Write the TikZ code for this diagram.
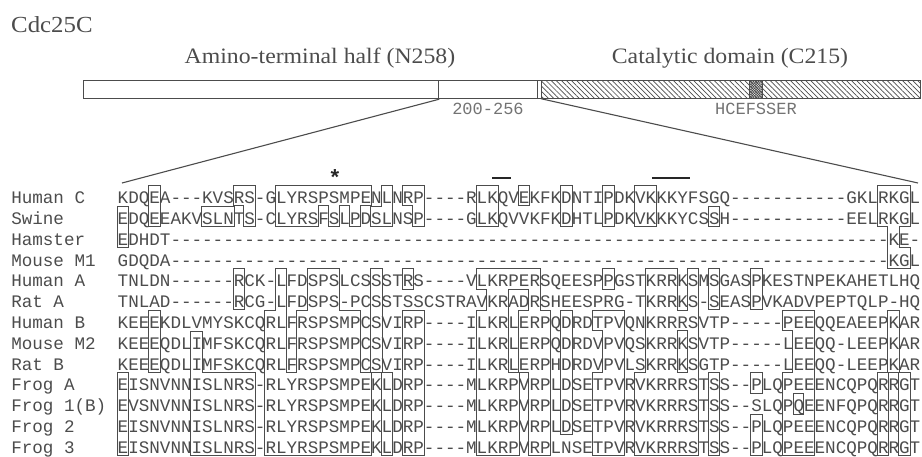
\documentclass[tikz,border=0pt]{standalone}
\usepackage{fontspec}
\setmainfont{Liberation Serif}
\newfontfamily\serifx[FakeStretch=1.08]{Liberation Serif}
\newfontfamily\monox{Liberation Mono}
\usetikzlibrary{patterns.meta}
\definecolor{ink}{gray}{0.3}
\definecolor{lightink}{gray}{0.45}
\tikzset{
  titletext/.style={font=\serifx\fontsize{23}{28}\selectfont, text=ink, inner sep=0pt},
  domaintext/.style={font=\serifx\fontsize{22}{26}\selectfont, text=ink, inner sep=0pt},
  seqtext/.style={font=\monox\fontsize{17.6}{20}\selectfont, text=ink, inner sep=0pt, anchor=base west},
  smallmono/.style={font=\monox\fontsize{17}{20}\selectfont, text=lightink, inner sep=0pt},
  barseg/.style={draw=ink, line width=1.2pt, inner sep=0pt, minimum height=18pt, anchor=north west, fill=white},
  hatchseg/.style={barseg, pattern={Lines[angle=-45,distance=3.6pt,line width=0.7pt]}, pattern color=ink},
  motifseg/.style={barseg, pattern={Hatch[angle=45,distance=1.8pt,line width=0.6pt]}, pattern color=ink},
  zoomline/.style={draw=ink, line width=1.1pt},
  boxstroke/.style={draw=ink, line width=2pt},
  markbar/.style={draw=black!85, line width=2pt},
}
\def\boxlist{0/0/1/2, 0/0/9/12, 3/3/0/1, 3/3/6/8,
 7/7/7/12, 8/12/9/12, 8/10/1/1, 11/11/0/0, 12/12/0/1, 11/11/4/5,
 14/14/6/12, 15/15/0/1, 15/15/4/12, 16/16/0/1, 16/16/9/12, 17/17/0/1, 17/17/6/12,
 18/18/0/1, 18/18/4/12, 19/19/0/0, 19/19/4/12, 20/20/0/1, 20/20/4/12,
 21/21/0/0, 21/21/6/12, 22/22/0/1, 22/22/6/12, 23/23/0/0, 23/23/9/12,
 24/24/1/1, 24/24/4/8, 25/25/0/1, 25/25/9/12, 27/27/0/0, 27/27/4/4, 27/27/6/12,
 28/28/0/1, 28/28/6/12,
 34/34/0/1, 34/34/4/4, 34/34/6/12, 35/35/0/1, 35/35/4/12, 36/36/4/12,
 37/37/4/4, 37/37/9/12, 38/38/0/0, 38/38/4/4, 38/38/6/8, 39/39/4/12, 40/40/6/12,
 42/42/0/1, 42/42/6/11, 45/45/6/6, 45/45/9/12, 46/46/0/1, 46/46/4/4, 46/46/6/12,
 47/47/6/12, 49/49/0/1, 49/49/9/12, 50/50/0/1, 50/50/4/12, 51/52/4/12,
 53/53/6/6, 53/53/9/12, 54/54/4/12, 56/56/1/1, 56/56/4/5, 56/56/9/12,
 60/60/4/5, 60/60/9/9, 60/60/11/12, 63/63/6/6, 63/63/9/12, 64/64/6/9, 64/64/11/12,
 65/65/6/12, 72/72/0/1, 72/72/9/12, 73/73/0/3, 73/73/6/8, 74/74/0/1, 74/74/3/3, 74/74/9/12}
\begin{document}
\begin{tikzpicture}[x=1pt,y=-1pt]
\useasboundingbox (0,0) rectangle (922,456);
% title and domain labels
\node[titletext, anchor=base west] (title) at (11,32) {Cdc25C};
\node[domaintext, anchor=base] (amino) at (320,63) {Amino-terminal half (N258)};
\node[domaintext, anchor=base] (catal) at (730,63) {Catalytic domain (C215)};
% domain bar
\node[barseg, minimum width=355pt] (nhalf) at (83,80) {};
\node[barseg, minimum width=99pt] (mid) at (438,80) {};
\node[barseg, minimum width=4pt] (gap) at (537,80) {};
\node[hatchseg, minimum width=379pt] (cat) at (541,80) {};
\node[motifseg, minimum width=13pt] (motif) at (749,80) {};
\node[smallmono, anchor=base] (rng) at (488,114) {200-256};
\node[smallmono, anchor=base] (mot) at (756,114) {HCEFSSER};
% zoom lines
\coordinate (alnL) at (122,183);
\coordinate (alnR) at (918,183);
\draw[zoomline] (nhalf.south east) -- (alnL);
\draw[zoomline] (cat.south west) -- (alnR);
% alignment
\begin{scope}[shift={(117.5,187.5)}, x=10.56pt, y=-20.8pt]
  \foreach \a/\b/\c/\d in \boxlist { \draw[boxstroke] (\a,\c-0.07) rectangle (\b+1,\d+0.86); }
  \foreach \a/\b/\c/\d in \boxlist { \fill[white] (\a,\c-0.07) rectangle (\b+1,\d+0.86); }
  % markers
  \node[font=\monox\fontsize{22}{22}\selectfont\bfseries, text=black!85, inner sep=0pt] (star) at (20.6,-0.47) {*};
  \coordinate (b1a) at (35.5,-0.46); \coordinate (b1b) at (37.3,-0.46);
  \coordinate (b2a) at (50.6,-0.46); \coordinate (b2b) at (54.2,-0.46);
  \draw[markbar] (b1a) -- (b1b);
  \draw[markbar] (b2a) -- (b2b);
  % labels
  \foreach \r/\lab in {0/Human C, 1/Swine, 2/Hamster, 3/Mouse M1, 4/Human A, 5/Rat A, 6/Human B, 7/Mouse M2, 8/Rat B, 9/Frog A, 10/Frog 1(B), 11/Frog 2, 12/Frog 3}
    { \node[seqtext] (lab\r) at (-10.08,\r+0.78) {\lab}; }
  \node[seqtext] (s0) at (0,0.78) {KDQEA---KVSRS-GLYRSPSMPENLNRP----RLKQVEKFKDNTIPDKVKKKYFSGQ-----------GKLRKGL};
  \node[seqtext] (s1) at (0,1.78) {EDQEEAKVSLNTS-CLYRSFSLPDSLNSP----GLKQVVKFKDHTLPDKVKKKYCSSH-----------EELRKGL};
  \node[seqtext] (s2) at (0,2.78) {EDHDT--------------------------------------------------------------------KE-};
  \node[seqtext] (s3) at (0,3.78) {GDQDA--------------------------------------------------------------------KGL};
  \node[seqtext] (s4) at (0,4.78) {TNLDN------RCK-LFDSPSLCSSSTRS----VLKRPERSQEESPPGSTKRRKSMSGASPKESTNPEKAHETLHQ};
  \node[seqtext] (s5) at (0,5.78) {TNLAD------RCG-LFDSPS-PCSSTSSCSTRAVKRADRSHEESPRG-TKRRKS-SEASPVKADVPEPTQLP-HQ};
  \node[seqtext] (s6) at (0,6.78) {KEEEKDLVMYSKCQRLFRSPSMPCSVIRP----ILKRLERPQDRDTPVQNKRRRSVTP-----PEEQQEAEEPKAR};
  \node[seqtext] (s7) at (0,7.78) {KEEEQDLIMFSKCQRLFRSPSMPCSVIRP----ILKRLERPQDRDVPVQSKRRKSVTP-----LEEQQ-LEEPKAR};
  \node[seqtext] (s8) at (0,8.78) {KEEEQDLIMFSKCQRLFRSPSMPCSVIRP----ILKRLERPHDRDVPVLSKRRKSGTP-----LEEQQ-LEEPKAR};
  \node[seqtext] (s9) at (0,9.78) {EISNVNNISLNRS-RLYRSPSMPEKLDRP----MLKRPVRPLDSETPVRVKRRRSTSS--PLQPEEENCQPQRRGT};
  \node[seqtext] (s10) at (0,10.78) {EVSNVNNISLNRS-RLYRSPSMPEKLDRP----MLKRPVRPLDSETPVRVKRRRSTSS--SLQPQEENFQPQRRGT};
  \node[seqtext] (s11) at (0,11.78) {EISNVNNISLNRS-RLYRSPSMPEKLDRP----MLKRPVRPLDSETPVRVKRRRSTSS--PLQPEEENCQPQRRGT};
  \node[seqtext] (s12) at (0,12.78) {EISNVNNISLNRS-RLYRSPSMPEKLDRP----MLKRPVRPLNSETPVRVKRRRSTSS--PLQPEEENCQPQRRGT};
\end{scope}
\end{tikzpicture}
\end{document}
